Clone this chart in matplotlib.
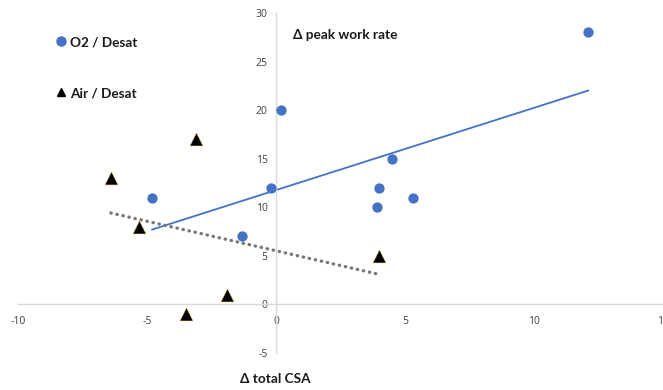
import numpy as np
import matplotlib
matplotlib.use("Agg")
import matplotlib.pyplot as plt
from matplotlib.lines import Line2D

# Data
o2_x = [0.2, -0.2, -4.8, -1.3, 3.9, 4.0, 4.5, 5.3, 12.1]
o2_y = [20, 12, 11, 7, 10, 12, 15, 11, 28]
air_x = [-3.1, -6.4, -5.3, -1.9, -3.5, 4.0]
air_y = [17, 13, 8, 1, -1, 5]
x_ticks = [-10, -5, 0, 5, 10, 15]
y_ticks = [-5, 0, 5, 10, 15, 20, 25, 30]
series_names = ["O2 / Desat", "Air / Desat"]
x_title = "Δ total CSA"
y_title = "Δ peak work rate"

W, H = 663, 390
fig = plt.figure(figsize=(W / 100, H / 100), dpi=100)
ax = fig.add_axes([18 / W, (H - 353) / H, 645 / W, 340 / H])
ax.set_xlim(-10, 15)
ax.set_ylim(-5, 30)

blue = "#4472C4"
gray_axis = "#D9D9D9"

# Trend lines (least squares, like Excel linear trendline)
for xs, ys, style in [
    (o2_x, o2_y, dict(color=blue, lw=1.3, ls="-")),
    (air_x, air_y, dict(color="#767676", lw=2.4, ls=(0, (0.1, 1.75)), dash_capstyle="round")),
]:
    m, b = np.polyfit(xs, ys, 1)
    xx = np.array([min(xs), max(xs)])
    ax.plot(xx, m * xx + b, zorder=2, **style)

ax.scatter(o2_x, o2_y, s=55, color=blue, zorder=3, linewidths=0)
ax.scatter(air_x, air_y, s=85, marker="^", color="black", edgecolors="#C9A227",
           linewidths=0.3, zorder=3)

for side in ["top", "right"]:
    ax.spines[side].set_visible(False)
ax.spines["left"].set_position(("data", 0))
ax.spines["bottom"].set_position(("data", 0))
for side in ["left", "bottom"]:
    ax.spines[side].set_color(gray_axis)
    ax.spines[side].set_linewidth(1.0)

ax.set_xticks(x_ticks)
ax.set_yticks(y_ticks)
ax.set_xticklabels([str(t) for t in x_ticks])
ax.set_yticklabels([str(t) for t in y_ticks])
ax.tick_params(axis="both", length=0, labelsize=7.5, labelcolor="#404040")
ax.tick_params(axis="x", pad=8)
ax.tick_params(axis="y", pad=6)
for lbl in ax.get_xticklabels() + ax.get_yticklabels():
    lbl.set_fontfamily("Open Sans")
    lbl.set_clip_on(False)

fig.patch.set_facecolor("white")

title_font = dict(family="Lato", weight="bold", size=9.8, color="#1a1a1a")
fig.text(293 / W, 1 - 35 / H, y_title, ha="left", va="center", **title_font)
fig.text(240 / W, 1 - 379 / H, x_title, ha="left", va="center", **title_font)

handles = [
    Line2D([], [], ls="none", marker="o", color=blue, markersize=6.5),
    Line2D([], [], ls="none", marker="^", color="black", markersize=6),
]
leg = fig.legend(handles, series_names, loc="upper left",
                 bbox_to_anchor=(45 / W, 1 - 24 / H), frameon=False,
                 handlelength=0.6, handletextpad=0.35, labelspacing=2.85,
                 prop=dict(family="Lato", weight="bold", size=9.8))
for t in leg.get_texts():
    t.set_color("#1a1a1a")

fig.savefig("out.png", dpi=100, facecolor="white")
